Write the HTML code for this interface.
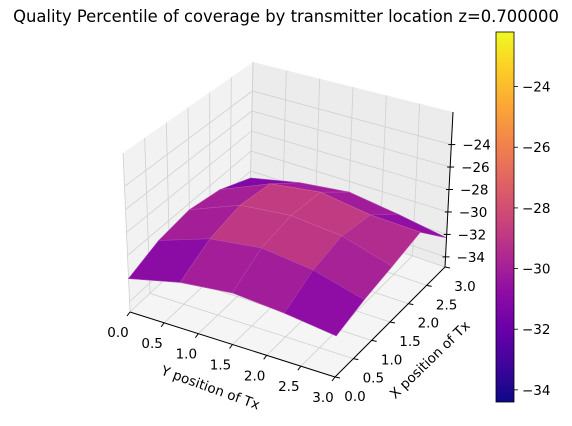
<!DOCTYPE html>
<html><head><meta charset="utf-8"><style>
html,body{margin:0;padding:0;background:#fff;}
svg{display:block;font-family:"DejaVu Sans","Liberation Sans",sans-serif;}
</style></head><body>
<svg id="chart" width="572" height="426" viewBox="0 0 572 426">
<text x="286" y="22" text-anchor="middle" font-size="16.4" fill="#000">Quality Percentile of coverage by transmitter location z=0.700000</text>
<g id="panes"></g>
<g id="surf"></g>
<g id="axes"></g>
<g id="cbar"></g>
</svg>
<script>
// data
const xVals = [0, 0.75, 1.5, 2.25, 3];
const yVals = [0, 0.75, 1.5, 2.25, 3];
const zRow0 = [-32.0, -31.0, -30.6, -31.0, -31.6];
const zRow1 = [-31.0, -29.5, -29.0, -29.6, -30.8];
const zRow2 = [-30.6, -28.8, -28.4, -28.9, -30.2];
const zRow3 = [-31.2, -29.2, -28.6, -29.3, -29.5];
const zRow4 = [-32.7, -31.6, -31.0, -31.6, -32.3];
const zGrid = [zRow0, zRow1, zRow2, zRow3, zRow4];
const xTicks = [0, 0.5, 1, 1.5, 2, 2.5, 3];
const yTicks = [0, 0.5, 1, 1.5, 2, 2.5, 3];
const zTicks = [-34, -32, -30, -28, -26, -24];
const cbTicks = [-34, -32, -30, -28, -26, -24];

const NS = "http://www.w3.org/2000/svg";
const zMin = -34.9, zMax = -21.1, vMin = -34.4, vMax = -22.2;
const botC = {A:[130,312], B:[335,377], C:[445,267], D:[250,200]};
const topC = {A:[123,153], B:[340,205], C:[453,112], D:[253,62]};
function bil(c, X, Y){
  const u = Y/3, v = X/3;
  const r = [0,0];
  for (let i=0;i<2;i++) r[i] = (1-u)*(1-v)*c.A[i] + u*(1-v)*c.B[i] + u*v*c.C[i] + (1-u)*v*c.D[i];
  return r;
}
function P(X, Y, Z){
  const b = bil(botC, X, Y), t = bil(topC, X, Y);
  const w = (Z - zMin)/(zMax - zMin);
  return [b[0] + (t[0]-b[0])*w, b[1] + (t[1]-b[1])*w];
}
const stops = ["#0d0887","#41049d","#6a00a8","#8f0da4","#b12a90","#cc4778","#e16462","#f2844b","#fca636","#fcce25","#f0f921"];
function hex(h){return [1,3,5].map(i=>parseInt(h.substr(i,2),16));}
function plasma(t){
  t=Math.max(0,Math.min(1,t)); const s=t*10, i=Math.min(9,Math.floor(s)), f=s-i;
  const a=hex(stops[i]), b=hex(stops[i+1]);
  return "rgb("+a.map((v,k)=>Math.round(v+(b[k]-v)*f)).join(",")+")";
}
function el(tag, attrs, parent){
  const e=document.createElementNS(NS,tag);
  for(const k in attrs) e.setAttribute(k, attrs[k]);
  parent.appendChild(e); return e;
}
const pts = a => a.map(p=>p[0].toFixed(1)+","+p[1].toFixed(1)).join(" ");

// panes
const panes = document.getElementById("panes");
const leftPane = el("polygon",{points:pts([P(0,0,zMin),P(3,0,zMin),P(3,0,zMax),P(0,0,zMax)]),fill:"#f2f2f2",stroke:"none"},panes);


const rightPane = el("polygon",{points:pts([P(3,0,zMin),P(3,3,zMin),P(3,3,zMax),P(3,0,zMax)]),fill:"#ececec",stroke:"none"},panes);


const floorPane = el("polygon",{points:pts([P(0,0,zMin),P(0,3,zMin),P(3,3,zMin),P(3,0,zMin)]),fill:"#f5f5f5",stroke:"none"},panes);


function gl(a,b){
  const l=el("line",{x1:a[0],y1:a[1],x2:b[0],y2:b[1],stroke:"#d0d0d0","stroke-width":0.8},panes);
  
  
}
yTicks.forEach(y=>{gl(P(0,y,zMin),P(3,y,zMin)); gl(P(3,y,zMin),P(3,y,zMax));});
xTicks.forEach(x=>{gl(P(x,0,zMin),P(x,3,zMin)); gl(P(x,0,zMin),P(x,0,zMax));});
zTicks.forEach(z=>{gl(P(0,0,z),P(3,0,z)); gl(P(3,0,z),P(3,3,z));});

// surface
const surf = document.getElementById("surf");
const faces=[];
for(let i=0;i<xVals.length-1;i++) for(let j=0;j<yVals.length-1;j++){
  const c=[[i,j],[i,j+1],[i+1,j+1],[i+1,j]];
  const zs=c.map(([a,b])=>zGrid[a][b]);
  const m=zs.reduce((s,v)=>s+v,0)/4;
  faces.push({c, m, d:(xVals[i]+xVals[i+1]) - (yVals[j]+yVals[j+1])});
}
faces.sort((a,b)=>b.d-a.d);
faces.forEach(f=>{
  const p=f.c.map(([a,b])=>P(xVals[a],yVals[b],zGrid[a][b]));
  const col=plasma((f.m-vMin)/(vMax-vMin));
  const poly=el("polygon",{points:pts(p),fill:col,stroke:col,"stroke-width":0.6},surf);
  
  
  const e=el("polygon",{points:pts(p),fill:"none",stroke:"rgba(255,255,255,0.25)","stroke-width":0.5},surf);
  
  
});

// axes
const axes=document.getElementById("axes");
function line(a,b,name,w){
  const l=el("line",{x1:a[0],y1:a[1],x2:b[0],y2:b[1],stroke:"#000","stroke-width":w||1},axes);
  
  
}
function txt(x,y,s,name,anchor,rot,size){
  const t=el("text",{x:x,y:y,"font-size":size||13.5,"text-anchor":anchor||"middle",fill:"#000"},axes);
  if(rot) t.setAttribute("transform","rotate("+rot+" "+x+" "+y+")");
  t.textContent=s;
  
  
}
const fmt=v=>v.toFixed(1);
const mfmt=v=>(v<0?"\u2212":"")+Math.abs(v);
line(P(0,0,zMin),P(0,3,zMin),"y-axis-line");
yTicks.forEach(y=>{
  const a=P(0,y,zMin); line(a,[a[0]-3,a[1]+4],"y-tick");
  txt(a[0]-12,a[1]+25,fmt(y),"y-tick-label");
});
txt(209,392,"Y position of Tx","y-axis-title","middle",20,13.5);
line(P(0,3,zMin),P(3,3,zMin),"x-axis-line");
xTicks.forEach(x=>{
  const a=P(x,3,zMin); line(a,[a[0]+5,a[1]+1],"x-tick");
  txt(a[0]+20,a[1]+24,fmt(x),"x-tick-label");
});
txt(433,363,"X position of Tx","x-axis-title","middle",-44,13.5);
line(P(3,3,zMin),P(3,3,zMax),"z-axis-line");
zTicks.forEach(z=>{
  const a=P(3,3,z); line([a[0]-3,a[1]],[a[0]+4,a[1]],"z-tick");
  txt(a[0]+11,a[1]+5,mfmt(z),"z-tick-label","start");
});

// colorbar
const cb=document.getElementById("cbar");
const cbX=496, cbW=18, cbT=32, cbB=402;
const defs=el("defs",{},cb);
const grad=el("linearGradient",{id:"pg",x1:0,y1:1,x2:0,y2:0},defs);
for(let k=0;k<=20;k++) el("stop",{offset:k/20,"stop-color":plasma(k/20)},grad);
const bar=el("rect",{x:cbX,y:cbT,width:cbW,height:cbB-cbT,fill:"url(#pg)",stroke:"#000","stroke-width":0.8},cb);


cbTicks.forEach(v=>{
  const y=cbB-(v-vMin)/(vMax-vMin)*(cbB-cbT);
  const l=el("line",{x1:cbX+cbW,y1:y,x2:cbX+cbW+4,y2:y,stroke:"#000","stroke-width":0.8},cb);
  
  
  const t=el("text",{x:cbX+cbW+8,y:y+5,"font-size":13.5,fill:"#000"},cb);
  t.textContent=mfmt(v);
  
  
});
</script>
</body></html>
